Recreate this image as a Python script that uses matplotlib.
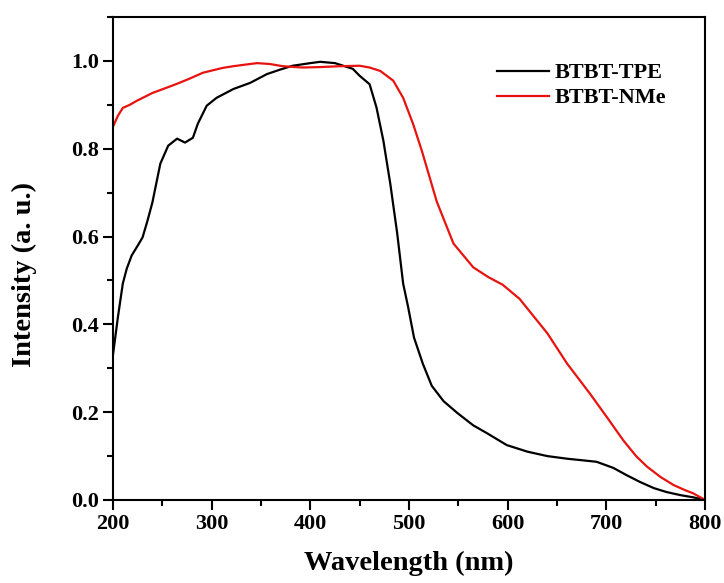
import matplotlib.pyplot as plt
from matplotlib.ticker import MultipleLocator

plt.rcParams["font.family"] = ["Liberation Serif", "DejaVu Serif"]
plt.rcParams["font.weight"] = "bold"

# BTBT-TPE (black)
tpe_wl = [200, 205, 210, 214, 219, 225, 230, 235, 240, 248, 256, 265, 273, 281,
          286, 295, 305, 322, 339, 356, 369, 382, 400, 410, 425, 443, 450, 460,
          467, 474, 481, 488, 494, 499, 505, 514, 523, 535, 549, 565, 579, 599,
          620, 640, 660, 673, 690, 707, 720, 734, 748, 761, 775, 788, 800]
tpe_int = [0.33, 0.416, 0.493, 0.527, 0.557, 0.579, 0.598, 0.636, 0.678, 0.766,
           0.807, 0.823, 0.814, 0.825, 0.857, 0.898, 0.916, 0.936, 0.95, 0.97,
           0.98, 0.989, 0.995, 0.998, 0.995, 0.982, 0.966, 0.947, 0.894, 0.818,
           0.72, 0.607, 0.493, 0.44, 0.37, 0.31, 0.26, 0.225, 0.198, 0.17,
           0.152, 0.125, 0.11, 0.1, 0.094, 0.091, 0.087, 0.073, 0.057, 0.041,
           0.027, 0.018, 0.011, 0.006, 0.0]

# BTBT-NMe (red)
nme_wl = [200, 205, 210, 217, 224, 232, 240, 252, 265, 278, 291, 300, 311, 322,
          332, 346, 359, 372, 392, 410, 430, 450, 460, 471, 484, 494, 504, 513,
          528, 545, 565, 580, 595, 612, 631, 640, 660, 683, 700, 717, 730, 741,
          755, 768, 780, 788, 800]
nme_int = [0.85, 0.875, 0.893, 0.9, 0.909, 0.918, 0.927, 0.937, 0.948, 0.96,
           0.973, 0.978, 0.984, 0.988, 0.991, 0.995, 0.993, 0.988, 0.985, 0.986,
           0.988, 0.989, 0.985, 0.977, 0.955, 0.916, 0.857, 0.795, 0.68, 0.584,
           0.53, 0.508, 0.49, 0.458, 0.405, 0.38, 0.311, 0.243, 0.19, 0.136,
           0.1, 0.076, 0.052, 0.034, 0.022, 0.015, 0.0]

fig = plt.figure(figsize=(7.24, 5.83), dpi=100)
ax = fig.add_axes([0.156, 0.1424, 0.818, 0.8284])

ax.plot(tpe_wl, tpe_int, color="black", linewidth=1.6, label="BTBT-TPE")
ax.plot(nme_wl, nme_int, color="#e8130f", linewidth=1.6, label="BTBT-NMe")

ax.set_xlim(200, 800)
ax.set_ylim(0, 1.1)
ax.xaxis.set_major_locator(MultipleLocator(100))
ax.xaxis.set_minor_locator(MultipleLocator(50))
ax.yaxis.set_major_locator(MultipleLocator(0.2))
ax.yaxis.set_minor_locator(MultipleLocator(0.1))
ax.yaxis.set_major_formatter(plt.FuncFormatter(lambda v, p: f"{v:.1f}"))

for side in ["left", "bottom", "top", "right"]:
    ax.spines[side].set_linewidth(1.5)
ax.tick_params(which="major", direction="out", length=7, width=1.5,
               labelsize=16, pad=3)
ax.tick_params(which="minor", direction="out", length=4, width=1.5)
ax.tick_params(top=False, right=False)

ax.set_xlabel("Wavelength (nm)", fontsize=20.5, fontweight="bold", labelpad=12)
ax.set_ylabel("Intensity (a. u.)", fontsize=20.5, fontweight="bold")
ax.yaxis.set_label_coords(-0.128, 0.466)

ax.legend(loc="upper left", bbox_to_anchor=(0.648, 0.905), frameon=False,
          fontsize=16, handlelength=2.35, handletextpad=0.25, borderpad=0,
          borderaxespad=0, labelspacing=0.2)

fig.savefig("out.png", dpi=100)
plt.close(fig)
